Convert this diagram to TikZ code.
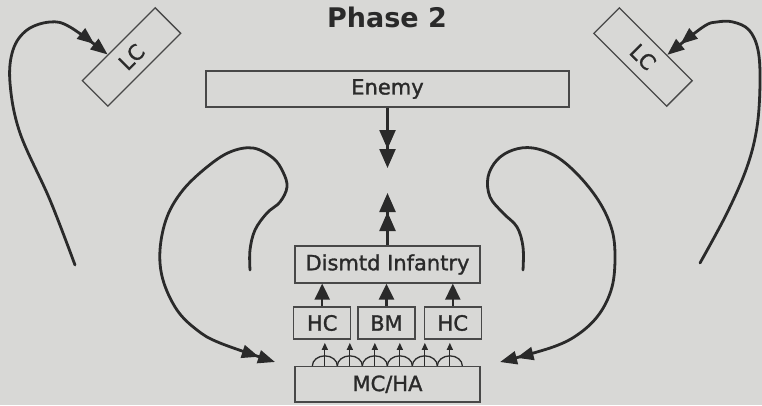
\documentclass[tikz,border=0pt]{standalone}
\usepackage{fontspec}
\setmainfont{DejaVu Sans}
\newfontfamily\boxfont{DejaVu Sans}[FakeBold=1.4]
\usepackage{tikz}
\usetikzlibrary{arrows.meta, positioning, calc}

\definecolor{paper}{RGB}{216,216,214}
\definecolor{ink}{RGB}{42,42,42}
\definecolor{edge}{RGB}{72,72,72}

\begin{document}
\begin{tikzpicture}[x=1pt, y=1pt,
    box/.style={draw=edge, line width=1.3pt, inner sep=0pt, text=ink, font=\boxfont\fontsize{21}{23}\selectfont},
    widebox/.style={box, minimum width=185pt},
    smallbox/.style={box, minimum width=57pt, minimum height=32pt},
    lcbox/.style={box, minimum width=103pt, minimum height=36pt},
    curve/.style={draw=ink, line width=2.8pt, line cap=round,
        -{Triangle[length=17pt, width=13pt] Triangle[length=17pt, width=13pt]}},
    push/.style={draw=ink, line width=2.4pt, -{Triangle[length=16pt, width=15pt]}},
    pushtwo/.style={draw=ink, line width=2.4pt,
        -{Triangle[length=19pt, width=16pt] Triangle[length=19pt, width=16pt]}},
    fire/.style={draw=ink, line width=1.2pt, -{Triangle[length=7pt, width=6pt]}},
    fan/.style={draw=ink, line width=1.3pt}]

    % paper
    \fill[paper] (0,0) rectangle (762,405);
    \useasboundingbox (0,0) rectangle (762,405);

    \node[font=\fontsize{27}{30}\selectfont\bfseries, text=ink] (title) at (387,388) {Phase 2};

    % boxes
    \node[box, minimum width=363pt, minimum height=36pt] (enemy) at (387.5,316) {Enemy};
    \node[widebox, minimum height=37pt] (inf) at (387.5,140.5) {Dismtd Infantry};
    \node[smallbox] (bm) at (386.5,82) {BM};
    \node[smallbox, left=6pt of bm] (hcl) {HC};
    \node[smallbox, right=8pt of bm] (hcr) {HC};
    \node[widebox, minimum height=35.5pt] (mcha) at (387.5,20.75) {MC/HA};
    \node[lcbox, rotate=45] (lcl) at (131.5,348) {LC};
    \node[lcbox, rotate=-45] (lcr) at (643,348) {LC};

    % contact in the middle
    \coordinate (down) at (387.5,237);
    \coordinate (up) at (387.5,212);
    \draw[pushtwo] (enemy.south) -- (down);
    \draw[pushtwo] (inf.north) -- (up);

    % support onto the infantry
    \draw[push] (hcl.north) -- (hcl.north |- inf.south);
    \draw[push] (bm.north) -- (bm.north |- inf.south);
    \draw[push] (hcr.north) -- (hcr.north |- inf.south);

    % fires from MC/HA
    \foreach \i in {0,...,5} {
        \coordinate (f\i) at ($(mcha.north west)+(30.5+25*\i,0)$);
        \coordinate (t\i) at ($(f\i)+(0,23)$);
        \draw[fan] (f\i) ++(-12.5,0) arc[start angle=180, end angle=0, x radius=12.5, y radius=10];
        \draw[fire] (f\i) -- (t\i);
    }

    % LC loops
    \coordinate (ol) at (75,140);
    \coordinate (or) at (700,142);
    \draw[curve] plot[smooth, tension=0.6] coordinates {(ol) (50,205) (20,272) (10,322) (13,355) (27,375) (50,383) (70,378) (lcl.129)};
    \draw[curve] plot[smooth, tension=0.6] coordinates {(or) (727,192) (747,238) (757,278) (760,322) (758,355) (749,375) (733,383) (717,383) (703,378) (lcr.50)};

    % flanking loops onto MC/HA
    \coordinate (il) at (250,135);
    \coordinate (ilend) at (275,43);
    \coordinate (ir) at (523,135);
    \coordinate (irend) at (500,43);
    \draw[curve] plot[smooth, tension=0.6] coordinates {(il) (250,155) (255,175) (267,192) (280,203) (287,218) (283,233) (273,247) (253,257) (230,253) (207,238) (183,215) (167,188) (160,155) (163,125) (177,95) (197,75) (220,62) (ilend)};
    \draw[curve] plot[smooth, tension=0.6] coordinates {(ir) (523,158) (517,178) (503,192) (490,208) (488,228) (497,245) (513,255) (533,257) (557,248) (580,228) (600,202) (612,175) (615,148) (612,118) (600,92) (580,72) (553,58) (irend)};
\end{tikzpicture}
\end{document}
